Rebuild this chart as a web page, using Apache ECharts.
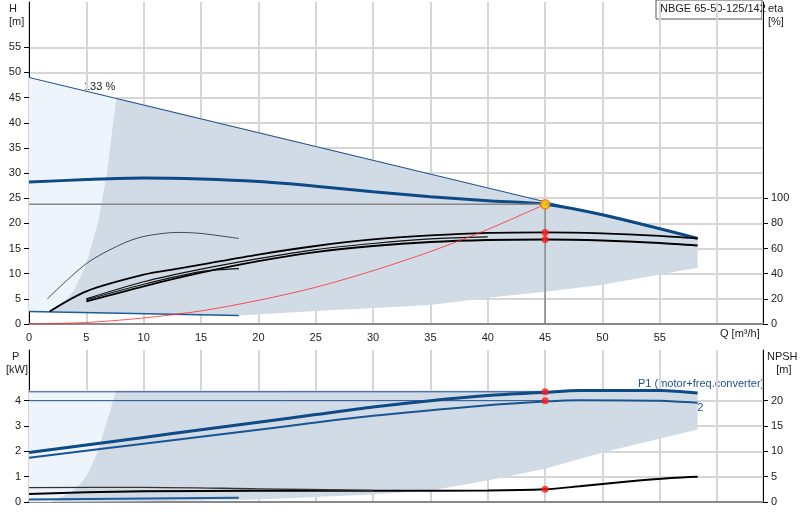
<!DOCTYPE html><html><head><meta charset="utf-8"><script src="https://cdn.jsdelivr.net/npm/echarts@6/dist/echarts.min.js"></script>
<style>body{margin:0}#c{width:800px;height:520px}</style></head><body><div id="c"></div><script>
const hLine133=[[0,49],[58.3,17]];
const h100=[[0,28.2],[5,28.7],[10,29],[15,28.8],[20,28.3],[25,27.4],[30,26.3],[35,25.3],[40,24.5],[45,23.8],[50,21.7],[58.3,17]];
const hMin=[[0,2.5],[18.3,1.7]];
const darkTop=[[7.6,45],[58.3,17],[58.3,11.2],[50,7.8],[45,6.4],[40,5.2],[35,3.8],[25,2.6],[18.3,1.7],[1.8,2.5],[3,4],[4,7],[5,12],[6,20],[6.8,30]];
const lightTop=[[0,49],[7.6,45],[6.8,30],[6,20],[5,12],[4,7],[3,4],[1.8,2.5],[0,2.5]];
const etaA=[[1.8,2.5],[5,6.5],[10,9.8],[13,11],[15,11.8],[20,13.8],[25,15.5],[30,16.8],[35,17.6],[40,18.1],[45,18.2],[50,18],[55,17.5],[58.3,17]];
const etaB=[[5,4.5],[10,7.5],[15,10.2],[20,12.5],[25,14.3],[30,15.5],[35,16.3],[40,16.7],[45,16.8],[50,16.6],[55,16.1],[58.3,15.6]];
const etaC=[[5,5],[10,8.4],[15,10.9],[20,13],[25,14.8],[30,16],[35,16.9],[40,17.3]];
const etaD=[[5,4.8],[10,7.9],[15,10.4],[18.3,11]];
const etaArc=[[1.6,5],[5,12],[8,15.8],[10,17.4],[13,18.2],[15,18],[18.3,17]];
const sysCurve=[[0,0],[5,0.3],[10,1.2],[15,2.6],[20,4.7],[25,7.3],[30,10.6],[35,14.4],[40,18.8],[45,23.8]];
const duty=[45,23.8];
const etaDots=[[45,18.2],[45,16.8]];
const p1=[[0,1.95],[5,2.25],[10,2.55],[15,2.85],[20,3.15],[25,3.45],[30,3.75],[35,4.0],[40,4.2],[45,4.33],[48,4.4],[55,4.4],[58.3,4.3]];
const p2=[[0,1.75],[10,2.3],[20,2.85],[30,3.4],[40,3.82],[45,3.97],[48,4.02],[55,4.0],[58.3,3.92]];
const pDark=[[7.6,4.4],[48,4.4],[58.3,4.3],[58.3,2.86],[50,1.95],[45,1.31],[40,0.85],[35,0.45],[30,0.3],[20,0.1],[10,0.03],[2,0],[4,0.5],[5,1],[6,2]];
const pLight=[[0,4.4],[7.6,4.4],[6,2],[5,1],[4,0.5],[2,0],[0,0]];
const npsh=[[0,0.32],[5,0.38],[10,0.42],[20,0.44],[30,0.44],[40,0.45],[45,0.5],[48,0.62],[52,0.8],[56,0.95],[58.3,1.0]];
const npsh2=[[0,0.57],[10,0.58],[20,0.52],[30,0.46]];
const pMin=[[0,0.1],[18.3,0.17]];
const pDots=[[45,4.35],[45,4.0],[45,0.5]];
const qTicks=[0,5,10,15,20,25,30,35,40,45,50,55];
const hTicks=[0,5,10,15,20,25,30,35,40,45,50,55];
const etaTicks=[0,20,40,60,80,100];
const pTicks=[0,1,2,3,4];
const npshTicks=[0,5,10,15,20];

function poly(d,fill,xi,yi){return{type:'custom',xAxisIndex:xi,yAxisIndex:yi,silent:true,z:1,data:[[0,0]],
 renderItem:(p,api)=>({type:'polygon',shape:{points:d.map(v=>api.coord(v))},style:{fill:fill}})};}
function ln(d,color,w,xi,yi,o){return Object.assign({type:'line',data:d,xAxisIndex:xi,yAxisIndex:yi,showSymbol:false,smooth:0.3,silent:true,z:3,lineStyle:{color:color,width:w}},o||{});}
const gl={lineStyle:{color:'#d6d6d6',width:2}};
const lab={color:'#222',fontSize:11,fontFamily:'Arial, Liberation Sans'};
const chart=echarts.init(document.getElementById('c'));
chart.setOption({animation:false,
grid:[{left:29,right:37,top:2,height:322},{left:29,right:37,top:350,height:152}],
xAxis:[{gridIndex:0,type:'value',min:0,max:64,interval:5,axisLine:{lineStyle:{color:'#888',width:2}},axisTick:{show:false},
 axisLabel:Object.assign({customValues:qTicks},lab),splitLine:gl},
 {gridIndex:1,type:'value',min:0,max:64,interval:5,axisLine:{lineStyle:{color:'#888',width:2}},axisTick:{show:false},axisLabel:{show:false},splitLine:gl}],
yAxis:[{gridIndex:0,type:'value',min:0,max:64,interval:5,axisLine:{show:true,lineStyle:{color:'#000'}},axisTick:{show:true,customValues:hTicks},axisLabel:Object.assign({customValues:hTicks},lab),splitLine:gl},
 {gridIndex:0,type:'value',position:'right',min:0,max:256,interval:20,axisLine:{show:true,lineStyle:{color:'#000'}},axisTick:{show:true,customValues:etaTicks},axisLabel:Object.assign({customValues:etaTicks},lab),splitLine:{show:false}},
 {gridIndex:1,type:'value',min:0,max:6,interval:1,axisLine:{show:true,lineStyle:{color:'#000'}},axisTick:{show:true,customValues:pTicks},axisLabel:Object.assign({customValues:pTicks},lab),splitLine:gl},
 {gridIndex:1,type:'value',position:'right',min:0,max:30,interval:5,axisLine:{show:true,lineStyle:{color:'#000'}},axisTick:{show:true,customValues:npshTicks},axisLabel:Object.assign({customValues:npshTicks},lab),splitLine:{show:false}}],
series:[
 poly(lightTop,'#edf4fb',0,0),poly(darkTop,'#d0dbe6',0,0),
 poly(pLight,'#edf4fb',1,2),poly(pDark,'#d0dbe6',1,2),
 ln(hLine133,'#1f4e8c',1,0,0,{smooth:false}),
 ln(h100,'#0e4a86',3,0,0),
 ln(hMin,'#1f5a99',1.5,0,0,{smooth:false}),
 ln(etaA,'#000',1.8,0,0),ln(etaB,'#000',1.8,0,0),ln(etaC,'#111',1.2,0,0),ln(etaD,'#111',1.2,0,0),ln(etaArc,'#222',0.8,0,0),
 ln(sysCurve,'#ff2a2a',0.8,0,0),
 ln([[0,duty[1]],duty],'#888',1.5,0,0,{smooth:false}),
 ln([[45,0],duty],'#888',1.5,0,0,{smooth:false}),
 {type:'scatter',data:etaDots,xAxisIndex:0,yAxisIndex:0,symbolSize:7,itemStyle:{color:'#ff1a1a'},z:5},
 {type:'scatter',data:[duty],xAxisIndex:0,yAxisIndex:0,symbolSize:9,itemStyle:{color:'#ffd700',borderColor:'#ff6a00',borderWidth:1.5},z:6},
 ln([[0,4.35],[45,4.35]],'#1f4e8c',1,1,2,{smooth:false}),
 ln([[0,4.0],[45,4.0]],'#1f4e8c',1,1,2,{smooth:false}),
 ln(p1,'#0e4a86',3,1,2),ln(p2,'#1a5592',2,1,2),
 ln(npsh,'#000',2,1,2),ln(npsh2,'#333',1.3,1,2),ln(pMin,'#1f5a99',2,1,2,{smooth:false}),
 {type:'scatter',data:pDots,xAxisIndex:1,yAxisIndex:2,symbolSize:7,itemStyle:{color:'#ff1a1a'},z:5}
],
graphic:[
 {type:'text',left:9,top:2,style:{text:'H\n[m]',font:'11px Arial',fill:'#222',align:'center',lineHeight:13}},
 {type:'text',left:768,top:2,style:{text:'eta\n[%]',font:'11px Arial',fill:'#222',lineHeight:13}},
 {type:'text',left:6,top:350,style:{text:'  P\n[kW]',font:'11px Arial',fill:'#222',lineHeight:13}},
 {type:'text',left:767,top:350,style:{text:'NPSH\n   [m]',font:'11px Arial',fill:'#222',lineHeight:13}},
 {type:'text',left:720,top:328,style:{text:'Q [m³/h]',font:'11px Arial',fill:'#222'}},
 {type:'rect',shape:{x:656,y:0,width:106,height:19},style:{fill:'#fff',stroke:'#555'}},
 {type:'text',left:660,top:3,style:{text:'NBGE 65-50-125/142',font:'11px Arial',fill:'#222'}},
 {type:'text',left:84,top:81,style:{text:'133 %',font:'11px Arial',fill:'#222'}},
 {type:'text',left:230,top:167,style:{text:'100 %',font:'italic 11px Arial',fill:'#222'}},
 {type:'text',left:87,top:297,style:{text:'30 %',font:'11px Arial',fill:'#222'}},
 {type:'text',left:638,top:378,style:{text:'P1 (motor+freq.converter)',font:'11px Arial',fill:'#1f4e8c'}},
 {type:'text',left:690,top:402,style:{text:'P2',font:'11px Arial',fill:'#1f4e8c'}}
]});
</script></body></html>
